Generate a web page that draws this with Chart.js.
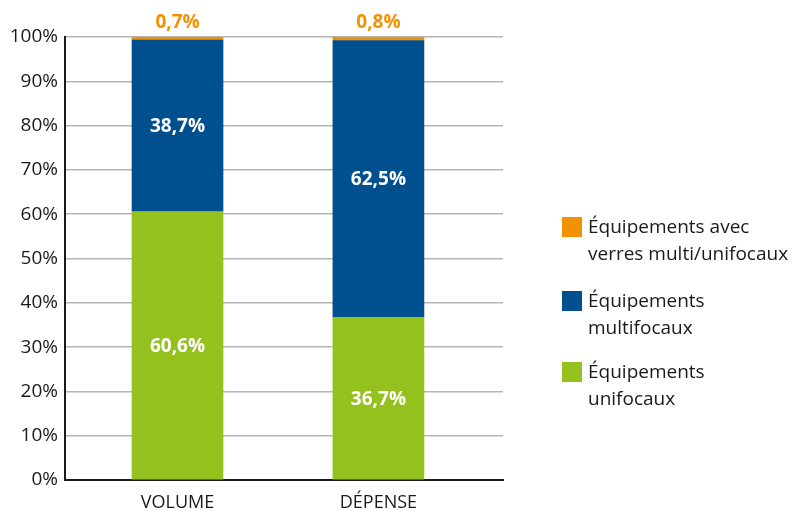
<!DOCTYPE html>
<html>
<head>
<meta charset="utf-8">
<script src="https://cdn.jsdelivr.net/npm/chart.js@4/dist/chart.umd.min.js"></script>
<style>
html,body{margin:0;padding:0;background:#fff;}
#wrap{width:793px;height:511px;position:relative;}
</style>
</head>
<body>
<div id="wrap"><canvas id="c" width="793" height="511"></canvas></div>
<script>
const categories = ['VOLUME', 'DÉPENSE'];
const seriesNames = [
  ['Équipements', 'unifocaux'],
  ['Équipements', 'multifocaux'],
  ['Équipements avec', 'verres multi/unifocaux']
];
const unifocaux = [60.6, 36.7];
const multifocaux = [38.7, 62.5];
const mixtes = [0.7, 0.8];
const yTicks = [0, 10, 20, 30, 40, 50, 60, 70, 80, 90, 100];

const colors = ['#95C11F', '#00508F', '#F39200'];
const FONT = '"Open Sans", "Noto Sans", sans-serif';

function pts(arr){ return arr.map((v,i)=>({x:i, y:v})); }
function fmt(v){ return v.toFixed(1).replace('.', ',') + '%'; }

const labelPlugin = {
  id: 'valueLabels',
  afterDatasetsDraw(chart){
    const ctx = chart.ctx;
    ctx.save();
    ctx.textAlign = 'center';
    ctx.textBaseline = 'middle';
    ctx.font = 'bold 19px ' + FONT;
    chart.data.datasets.forEach((ds, di)=>{
      const meta = chart.getDatasetMeta(di);
      meta.data.forEach((bar, i)=>{
        const v = ds.data[i].y;
        if (di === 2) {
          ctx.fillStyle = colors[2];
          ctx.fillText(fmt(v), bar.x, bar.y - 14);
        } else {
          ctx.fillStyle = '#ffffff';
          ctx.fillText(fmt(v), bar.x, (bar.y + bar.base)/2 + 1);
        }
      });
    });
    ctx.restore();
  }
};

const legendPlugin = {
  id: 'sideLegend',
  afterDraw(chart){
    const ctx = chart.ctx;
    ctx.save();
    ctx.font = '19px ' + FONT;
    ctx.textAlign = 'left';
    ctx.textBaseline = 'middle';
    const order = [2, 1, 0];
    const tops = [217, 291, 362];
    order.forEach((di, k)=>{
      const ds = chart.data.datasets[di];
      const top = tops[k];
      ctx.fillStyle = ds.backgroundColor;
      ctx.fillRect(562, top, 20, 20);
      ctx.fillStyle = '#1a1a1a';
      ds.label.forEach((line, j)=>{
        ctx.fillText(line, 588, top + 11 + j*27);
      });
    });
    ctx.restore();
  }
};

new Chart(document.getElementById('c'), {
  type: 'bar',
  data: {
    datasets: [
      {label: seriesNames[0], data: pts(unifocaux), backgroundColor: colors[0]},
      {label: seriesNames[1], data: pts(multifocaux), backgroundColor: colors[1]},
      {label: seriesNames[2], data: pts(mixtes), backgroundColor: colors[2]}
    ]
  },
  options: {
    responsive: false,
    animation: false,
    events: [],
    barThickness: 91,
    layout: {padding: {top: 37, right: 290, left: 0, bottom: 0}},
    plugins: {legend: {display: false}, tooltip: {enabled: false}},
    scales: {
      x: {
        type: 'linear',
        stacked: true,
        offset: false,
        min: -0.56,
        max: 1.62,
        afterBuildTicks(s){ s.ticks = categories.map((c,i)=>({value:i})); },
        afterFit(s){ s.height = 31; },
        grid: {display: false, offset: false},
        border: {display: true, color: '#1a1a1a', width: 2},
        ticks: {
          padding: 4,
          color: '#1a1a1a',
          font: {family: FONT, size: 18},
          callback: (v)=> categories[v] ?? '',
          maxRotation: 0,
          autoSkip: false
        }
      },
      y: {
        stacked: true,
        min: 0,
        max: 100,
        afterBuildTicks(s){ s.ticks = yTicks.map(v=>({value:v})); },
        afterFit(s){ s.width = 65; },
        grid: {color: '#b5b5b5', lineWidth: 1.5, drawTicks: false},
        border: {display: true, color: '#1a1a1a', width: 2},
        ticks: {
          padding: 7,
          color: '#1a1a1a',
          font: {family: FONT, size: 19},
          callback: (v)=> v + '%'
        }
      }
    }
  },
  plugins: [labelPlugin, legendPlugin]
});
</script>
</body>
</html>
